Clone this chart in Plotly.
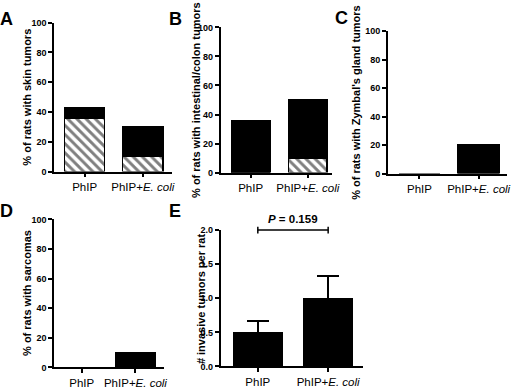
import plotly.graph_objects as go

# ---------------- data ----------------
groups = ["PhIP", "PhIP+<i>E. coli</i>"]

skin_total = [42.9, 30.0]
skin_hatched = [35.7, 10.0]

colon_total = [35.7, 50.0]
colon_hatched = [0.0, 10.0]

zymbal = [0.0, 20.0]
sarcoma = [0.0, 10.0]

invasive_mean = [0.5, 1.0]
invasive_sem = [0.17, 0.33]

p_text = "<i>P</i> = 0.159"

# ---------------- layout helpers ----------------
W, H = 520, 389
FONT = "Liberation Sans, Arial, sans-serif"


def px_x(a, b):
    return [a / W, b / W]


def px_y(top, bottom):
    return [1 - bottom / H, 1 - top / H]


panels = {
    # name: (xdom px, ydom px, xrange, yrange, ytickvals, bar width)
    "1": ((55, 175), (18, 171), [-0.525, 1.508], [0, 100], [0, 20, 40, 60, 80, 100], 0.69),
    "2": ((224, 337), (23, 172), [-0.526, 1.42], [0, 100], [0, 20, 40, 60, 80, 100], 0.67),
    "3": ((394, 515), (27, 173), [-0.533, 1.48], [0, 100], [0, 20, 40, 60, 80, 100], 0.70),
    "4": ((55, 167), (220, 372), [-0.514, 1.54], [0, 100], [0, 20, 40, 60, 80, 100], 0.72),
    "5": ((224, 369), (231, 371), [-0.53, 1.50], [0, 2], [0, 0.5, 1.0, 1.5, 2.0], 0.69),
}

fig = go.Figure()
xs = [0, 1]
line = dict(color="black", width=1.5)
hatch = dict(shape="\\", fgcolor="black", bgcolor="white", size=6.5, solidity=0.45)


def add_bar(y, n, pattern=False, **kw):
    marker = dict(color="black" if not pattern else "white", line=line)
    if pattern:
        marker["pattern"] = hatch
    ax = "" if n == "1" else n
    fig.add_trace(go.Bar(
        x=xs, y=y, xaxis="x" + ax, yaxis="y" + ax,
        width=panels[n][5], marker=marker, showlegend=False, **kw))


# A: skin tumors (hatched + solid)
add_bar(skin_hatched, "1", pattern=True)
add_bar([t - h for t, h in zip(skin_total, skin_hatched)], "1")
# B: intestinal/colon
add_bar(colon_hatched, "2", pattern=True)
add_bar([t - h for t, h in zip(colon_total, colon_hatched)], "2")
# C: Zymbal's gland
add_bar(zymbal, "3")
# D: sarcomas
add_bar(sarcoma, "4")
# E: invasive tumors
add_bar(invasive_mean, "5", error_y=dict(
    type="data", symmetric=False, array=invasive_sem, arrayminus=[0, 0],
    color="black", thickness=1.5, width=11))

layout = dict(
    width=W, height=H, margin=dict(l=0, r=0, t=0, b=0),
    paper_bgcolor="white", plot_bgcolor="white",
    barmode="stack", showlegend=False,
    font=dict(family=FONT, color="black"),
)

for n, (xd, yd, xr, yr, ytv, bw) in panels.items():
    ax = "" if n == "1" else n
    layout["xaxis" + ax] = dict(
        domain=px_x(*xd), range=xr, anchor="y" + ax,
        tickvals=xs, ticktext=groups,
        showline=True, linecolor="black", linewidth=1.5,
        ticks="outside", ticklen=4, tickwidth=1.5, tickcolor="black",
        showgrid=False, zeroline=False, fixedrange=True,
        tickfont=dict(family=FONT, size=11.5, color="black"),
    )
    layout["yaxis" + ax] = dict(
        domain=px_y(*yd), range=yr, anchor="x" + ax,
        tickvals=ytv, tickformat=".1f" if n == "5" else "d",
        showline=True, linecolor="black", linewidth=1.5,
        ticks="outside", ticklen=4, tickwidth=1.5, tickcolor="black",
        showgrid=False, zeroline=False, fixedrange=True,
        tickfont=dict(family=FONT, size=9, color="black", weight="bold"),
    )

fig.update_layout(**layout)

# ---------------- annotations: titles, letters ----------------
titles = [
    ("% of rats with skin tumors", 28, (18 + 171) / 2),
    ("% of rats with intestinal/colon tumors", 199, (23 + 172) / 2),
    ("% of rats with Zymbal's gland tumors", 362, (27 + 173) / 2),
    ("% of rats with sarcomas", 28, (220 + 372) / 2),
    ("# invasive tumors per rat", 204, (231 + 371) / 2),
]
for txt, x, y in titles:
    fig.add_annotation(text=txt, x=x / W, y=1 - y / H, xref="paper", yref="paper",
                       textangle=-90, showarrow=False, xanchor="center", yanchor="middle",
                       font=dict(family=FONT, size=11, color="black", weight="bold"))

letters = [("A", 7, 14), ("B", 178, 14), ("C", 347, 13), ("D", 7, 211), ("E", 178, 211)]
for txt, x, y in letters:
    fig.add_annotation(text=txt, x=x / W, y=1 - y / H, xref="paper", yref="paper",
                       showarrow=False, xanchor="center", yanchor="middle",
                       font=dict(family=FONT, size=18, color="black", weight="bold"))

# ---------------- significance bracket in panel E ----------------
fig.add_shape(type="line", xref="x5", yref="y5 domain", x0=0, x1=1, y0=1, y1=1,
              line=dict(color="black", width=1.5))
for xv in xs:
    fig.add_shape(type="line", xref="x5", yref="y5 domain", x0=xv, x1=xv, y0=0.975, y1=1.025,
                  line=dict(color="black", width=1.5))
fig.add_annotation(text=p_text, xref="x5", yref="y5 domain", x=0.5, y=1, yshift=3,
                   showarrow=False, xanchor="center", yanchor="bottom",
                   font=dict(family=FONT, size=11.5, color="black", weight="bold"))

fig.write_html("out.html", config={"displayModeBar": False},
               post_script="document.body.style.margin='0';document.body.style.padding='0';")
